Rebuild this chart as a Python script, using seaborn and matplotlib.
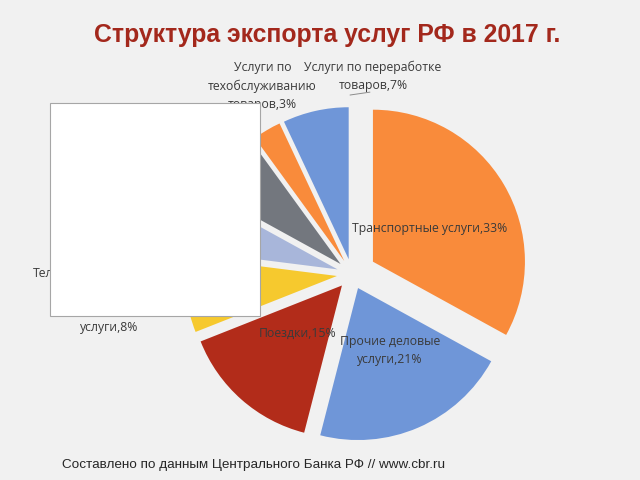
import matplotlib
matplotlib.use("Agg")
import matplotlib.pyplot as plt
import seaborn as sns
from matplotlib.patches import Rectangle

categories = [
    "Транспортные услуги",
    "Прочие деловые услуги",
    "Поездки",
    "Телекоммуникационные, компьютерные и информационные услуги",
    "Прочие услуги",
    "Строительство",
    "Услуги по техобслуживанию товаров",
    "Услуги по переработке товаров",
]
shares = [33, 21, 15, 8, 6, 7, 3, 7]
label_texts = [
    "Транспортные услуги,33%",
    "Прочие деловые\nуслуги,21%",
    "Поездки,15%",
    "Телекоммуникационные,\nкомпьютерные и\nинформационные\nуслуги,8%",
    None,
    None,
    "Услуги по\nтехобслуживанию\nтоваров,3%",
    "Услуги по переработке\nтоваров,7%",
]

colors = ["#F98B3B", "#6F96D8", "#B22C1A", "#F6C92E",
          "#A8B6DA", "#73777E", "#F98B3B", "#6F96D8"]
explode = [0.16, 0.10, 0.10, 0.10, 0.10, 0.10, 0.10, 0.10]
# label positions in pie data units (radius = 1)
label_pos = [(0.513, 0.303), (0.25, -0.50), (-0.355, -0.388), (-1.60, -0.172),
             None, None, (-0.59, 1.237), (0.138, 1.30)]

sns.set_theme(style="white")
plt.rcParams["font.family"] = ["Liberation Sans", "DejaVu Sans"]

fig = plt.figure(figsize=(6.4, 4.8), dpi=100)
fig.patch.set_facecolor("#F1F1F1")

ax = fig.add_axes([0.265, 0.049, 0.570, 0.76])
ax.pie(shares, colors=colors, explode=explode, startangle=90,
       counterclock=False, radius=1.0,
       wedgeprops=dict(linewidth=0))
ax.set_xlim(-1.2, 1.2)
ax.set_ylim(-1.2, 1.2)
ax.set_aspect("equal")
ax.axis("off")

for txt, pos in zip(label_texts, label_pos):
    if txt is None:
        continue
    ax.text(pos[0], pos[1], txt, ha="center", va="center", fontsize=8.8,
            color="#3A3A3A", family=["Open Sans", "DejaVu Sans"],
            linespacing=1.5, clip_on=False)

# leader line for the 7% label
ax.plot([-0.013, 0.118], [1.178, 1.197], color="#8C8C8C", lw=0.7, clip_on=False)

fig.text(0.511, 0.927, "Структура экспорта услуг РФ в 2017 г.",
         ha="center", va="center", fontsize=17.8, fontweight="bold",
         color="#A3281C")
fig.text(0.097, 0.031, "Составлено по данным Центрального Банка РФ // www.cbr.ru",
         ha="left", va="center", fontsize=9.7, color="#262626")

# white box covering part of the chart
fig.add_artist(Rectangle((0.078, 0.3417), 0.328, 0.4437, transform=fig.transFigure,
                         facecolor="white", edgecolor="#A6A6A6", lw=0.8,
                         zorder=10))

fig.savefig("out.png", dpi=100, facecolor=fig.get_facecolor())
